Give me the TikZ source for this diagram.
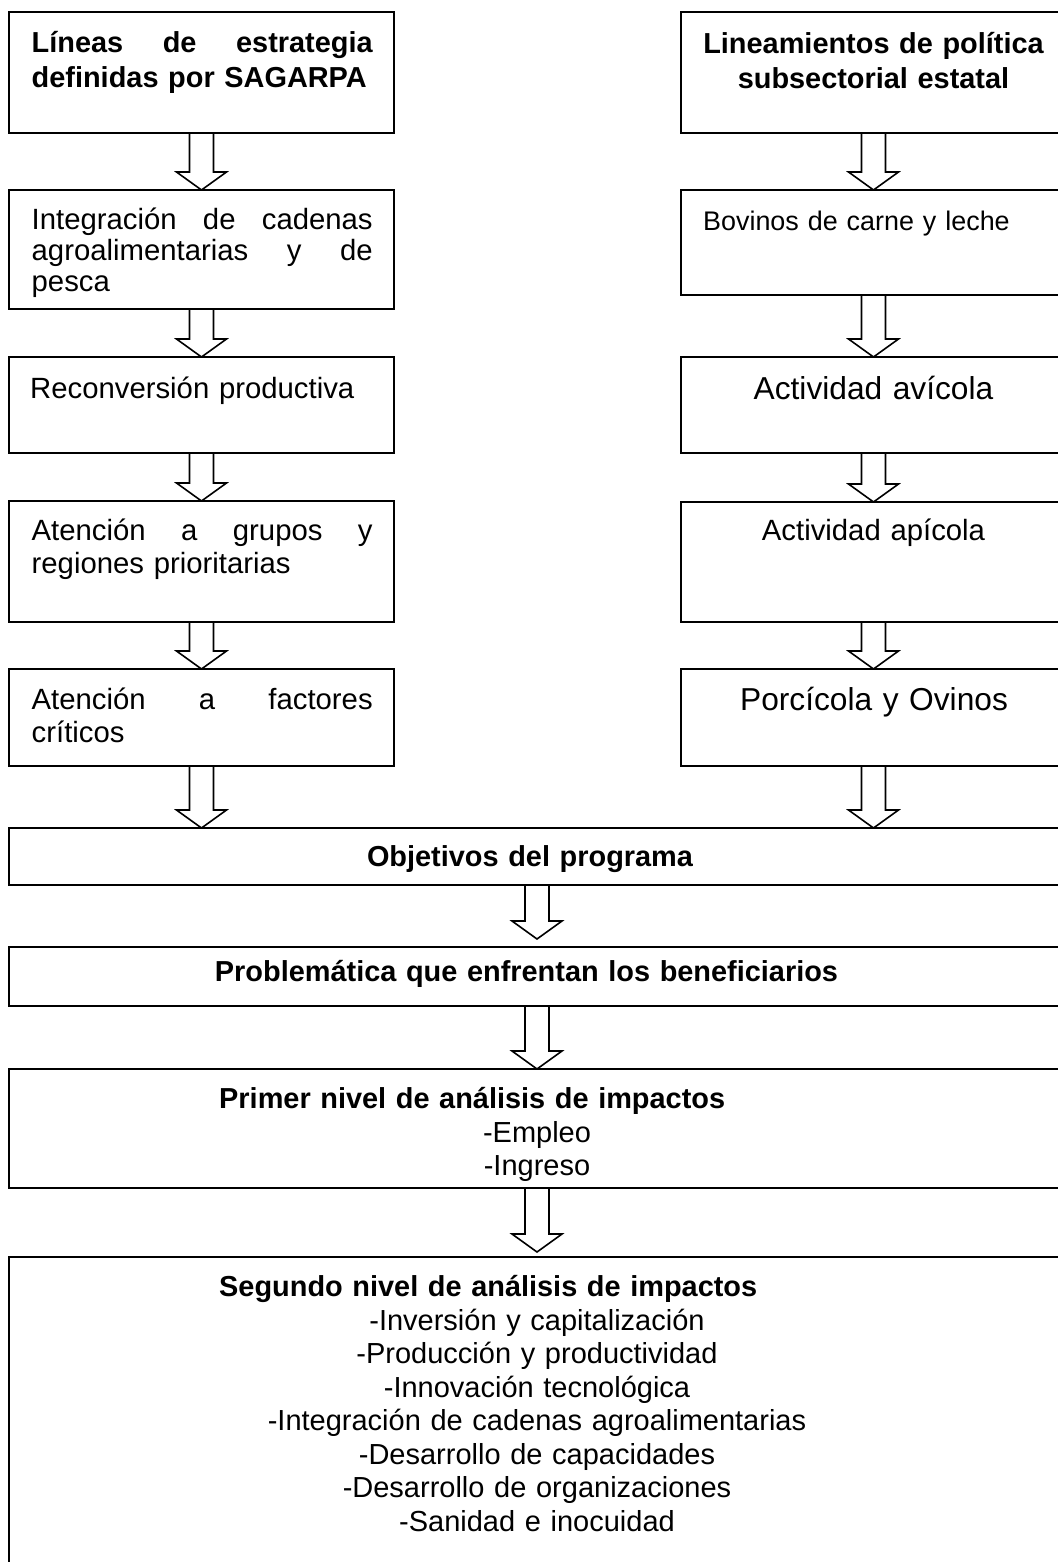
\documentclass[tikz,border=0pt]{standalone}
\usepackage{fontspec}
\setmainfont{Liberation Sans}
\usepackage{tikz}
\usetikzlibrary{calc}

\newcommand{\letra}{\fontsize{29.3}{33}\selectfont}
\newcommand{\letrados}{\fontsize{29.3}{31}\selectfont}
\newcommand{\letrachica}{\fontsize{26.9}{31}\selectfont}
\newcommand{\letragrande}{\fontsize{31.7}{36}\selectfont}
\newcommand{\letranegra}{\fontsize{28.9}{35}\selectfont\bfseries}
\newcommand{\letralista}{\fontsize{29}{33.5}\selectfont}
\newcommand{\flecha}[2]{%
    \draw[hueca] ($(#1)+(-12pt,0pt)$) -- ($(#2)+(-12pt,18pt)$)
        -- ($(#2)+(-25pt,18pt)$) -- (#2) -- ($(#2)+(25pt,18pt)$)
        -- ($(#2)+(12pt,18pt)$) -- ($(#1)+(12pt,0pt)$);}

\begin{document}
\begin{tikzpicture}[x=1pt,y=-1pt,
    caja/.style={draw,line width=1.6pt,inner sep=0pt,outer sep=0pt,
        anchor=north west,minimum width=385pt},
    cajaancha/.style={caja,minimum width=1056pt},
    texto/.style={inner sep=0pt,anchor=base west,text width=341pt,
        align=left,font=\letra},
    titulo/.style={texto,font=\letranegra},
    centrado/.style={inner sep=0pt,anchor=base,text width=700pt,
        align=center,font=\letra},
    hueca/.style={line width=1.6pt,line join=miter}]
    \useasboundingbox (0,0) rectangle (1057,1562);

    \node[caja,minimum height=121pt] (l1) at (9,12) {};
    \node[caja,minimum height=119pt] (l2) at (9,190) {};
    \node[caja,minimum height=96pt] (l3) at (9,357) {};
    \node[caja,minimum height=121pt] (l4) at (9,501) {};
    \node[caja,minimum height=97pt] (l5) at (9,669) {};

    \node[caja,minimum height=121pt] (r1) at (681,12) {};
    \node[caja,minimum height=105pt] (r2) at (681,190) {};
    \node[caja,minimum height=96pt] (r3) at (681,357) {};
    \node[caja,minimum height=120pt] (r4) at (681,502) {};
    \node[caja,minimum height=97pt] (r5) at (681,669) {};

    \node[cajaancha,minimum height=57pt] (obj) at (9,828) {};
    \node[cajaancha,minimum height=59pt] (prob) at (9,947) {};
    \node[cajaancha,minimum height=119pt] (prim) at (9,1069) {};
    \node[cajaancha,minimum height=340pt] (seg) at (9,1257) {};

    \node[titulo] (tl1) at (31.5,53)
        {Líneas\hfill de\hfill estrategia\\definidas por SAGARPA};
    \node[texto,font=\letrados] (tl2) at (31.5,230)
        {Integración\hfill de\hfill cadenas\\agroalimentarias\hfill y\hfill de\\pesca};
    \node[texto] (tl3) at (30,398) {Reconversión productiva};
    \node[texto] (tl4) at (31.5,540)
        {Atención\hfill a\hfill grupos\hfill y\\regiones prioritarias};
    \node[texto] (tl5) at (31.5,709)
        {Atención\hfill a\hfill factores\\críticos};

    \node[centrado,font=\letranegra] (tr1) at (873.5,54)
        {Lineamientos de política\\subsectorial estatal};
    \node[texto,font=\letrachica] (tr2) at (703,231) {Bovinos de carne y leche};
    \node[centrado,font=\letragrande] (tr3) at (873.5,399) {Actividad avícola};
    \node[centrado] (tr4) at (873.5,540) {Actividad apícola};
    \node[centrado,font=\letragrande] (tr5) at (874,710) {Porcícola y Ovinos};

    \node[centrado,font=\letranegra] (tobj) at (530,866) {Objetivos del programa};
    \node[centrado,font=\letranegra] (tprob) at (526.5,981)
        {Problemática que enfrentan los beneficiarios};
    \node[titulo,text width=600pt] (tprim) at (219,1108)
        {Primer nivel de análisis de impactos};
    \node[centrado,font=\letralista] (lprim) at (537,1142) {-Empleo\\-Ingreso};
    \node[titulo,text width=600pt] (tseg) at (219,1296)
        {Segundo nivel de análisis de impactos};
    \node[centrado,font=\letralista] (lseg) at (537,1330)
        {-Inversión y capitalización\\-Producción y productividad\\
        -Innovación tecnológica\\-Integración de cadenas agroalimentarias\\
        -Desarrollo de capacidades\\-Desarrollo de organizaciones\\
        -Sanidad e inocuidad};

    \coordinate (ol) at (l5.south |- obj.north);
    \coordinate (or) at (r5.south |- obj.north);
    \coordinate (op) at ($(prob.north)+(0pt,8pt)$);
    \coordinate (os) at ($(seg.north)+(0pt,5pt)$);

    \flecha{l1.south}{l2.north}
    \flecha{l2.south}{l3.north}
    \flecha{l3.south}{l4.north}
    \flecha{l4.south}{l5.north}
    \flecha{l5.south}{ol}
    \flecha{r1.south}{r2.north}
    \flecha{r2.south}{r3.north}
    \flecha{r3.south}{r4.north}
    \flecha{r4.south}{r5.north}
    \flecha{r5.south}{or}
    \flecha{obj.south}{op}
    \flecha{prob.south}{prim.north}
    \flecha{prim.south}{os}
\end{tikzpicture}
\end{document}
